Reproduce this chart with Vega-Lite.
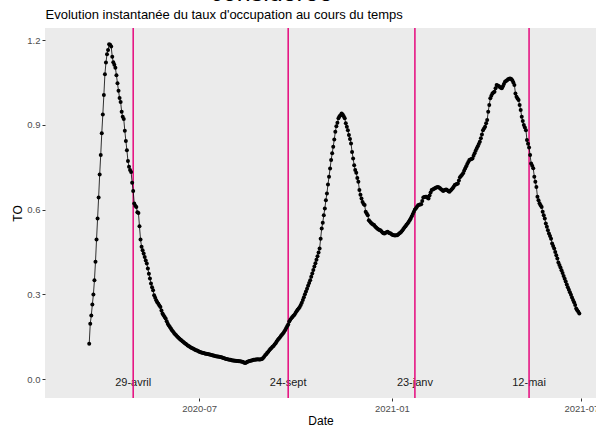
{
"$schema": "https://vega.github.io/schema/vega-lite/v6.json",
"autosize": "none",
"width": 551,
"height": 370,
"padding": {"left": 45, "top": 28, "right": 0, "bottom": 29},
"background": "#FFFFFF",
"title": {"text": "considérée", "fontSize": 25, "font": "Liberation Sans", "fontWeight": "normal", "color": "#000000", "anchor": "middle", "frame": "group", "dx": -49, "dy": 0, "offset": 2},
"datasets": {
"ev": [
{"d":"2020-04-29","label":"29-avril"},
{"d":"2020-09-24","label":"24-sept"},
{"d":"2021-01-23","label":"23-janv"},
{"d":"2021-05-12","label":"12-mai"}
],
"ts": [
{"d":"2020-03-18","v":0.125},{"d":"2020-03-19","v":0.196},{"d":"2020-03-20","v":0.225},{"d":"2020-03-21","v":0.264},{"d":"2020-03-22","v":0.299},{"d":"2020-03-23","v":0.350},{"d":"2020-03-24","v":0.415},{"d":"2020-03-25","v":0.494},{"d":"2020-03-26","v":0.568},{"d":"2020-03-27","v":0.643},{"d":"2020-03-28","v":0.724},{"d":"2020-03-29","v":0.793},{"d":"2020-03-30","v":0.870},{"d":"2020-03-31","v":0.936},
{"d":"2020-04-01","v":1.005},{"d":"2020-04-02","v":1.079},{"d":"2020-04-03","v":1.120},{"d":"2020-04-04","v":1.150},{"d":"2020-04-05","v":1.165},{"d":"2020-04-06","v":1.185},{"d":"2020-04-07","v":1.183},{"d":"2020-04-08","v":1.177},{"d":"2020-04-09","v":1.141},{"d":"2020-04-10","v":1.121},{"d":"2020-04-11","v":1.112},{"d":"2020-04-12","v":1.102},{"d":"2020-04-13","v":1.075},{"d":"2020-04-14","v":1.047},{"d":"2020-04-15","v":1.020},{"d":"2020-04-16","v":0.995},{"d":"2020-04-17","v":0.981},{"d":"2020-04-18","v":0.946},{"d":"2020-04-19","v":0.928},{"d":"2020-04-20","v":0.920},{"d":"2020-04-21","v":0.879},{"d":"2020-04-22","v":0.843},{"d":"2020-04-23","v":0.810},{"d":"2020-04-24","v":0.772},{"d":"2020-04-25","v":0.751},{"d":"2020-04-26","v":0.740},{"d":"2020-04-27","v":0.733},{"d":"2020-04-28","v":0.695},{"d":"2020-04-29","v":0.666},{"d":"2020-04-30","v":0.621},
{"d":"2020-05-01","v":0.613},{"d":"2020-05-02","v":0.609},{"d":"2020-05-03","v":0.590},{"d":"2020-05-04","v":0.588},{"d":"2020-05-05","v":0.541},{"d":"2020-05-06","v":0.494},{"d":"2020-05-07","v":0.468},{"d":"2020-05-08","v":0.456},{"d":"2020-05-09","v":0.444},{"d":"2020-05-10","v":0.432},{"d":"2020-05-11","v":0.420},{"d":"2020-05-12","v":0.409},{"d":"2020-05-13","v":0.391},{"d":"2020-05-14","v":0.373},{"d":"2020-05-15","v":0.356},{"d":"2020-05-16","v":0.338},{"d":"2020-05-17","v":0.325},{"d":"2020-05-18","v":0.314},{"d":"2020-05-19","v":0.297},{"d":"2020-05-20","v":0.288},{"d":"2020-05-21","v":0.279},{"d":"2020-05-22","v":0.272},{"d":"2020-05-23","v":0.267},{"d":"2020-05-24","v":0.260},{"d":"2020-05-25","v":0.255},{"d":"2020-05-26","v":0.243},{"d":"2020-05-27","v":0.232},{"d":"2020-05-28","v":0.226},{"d":"2020-05-29","v":0.220},{"d":"2020-05-30","v":0.214},{"d":"2020-05-31","v":0.205},
{"d":"2020-06-01","v":0.196},{"d":"2020-06-02","v":0.190},{"d":"2020-06-03","v":0.184},{"d":"2020-06-04","v":0.179},{"d":"2020-06-05","v":0.173},{"d":"2020-06-06","v":0.168},{"d":"2020-06-07","v":0.163},{"d":"2020-06-08","v":0.159},{"d":"2020-06-09","v":0.155},{"d":"2020-06-10","v":0.151},{"d":"2020-06-11","v":0.147},{"d":"2020-06-12","v":0.144},{"d":"2020-06-13","v":0.140},{"d":"2020-06-14","v":0.137},{"d":"2020-06-15","v":0.134},{"d":"2020-06-16","v":0.131},{"d":"2020-06-17","v":0.128},{"d":"2020-06-18","v":0.125},{"d":"2020-06-19","v":0.122},{"d":"2020-06-20","v":0.119},{"d":"2020-06-21","v":0.117},{"d":"2020-06-22","v":0.114},{"d":"2020-06-23","v":0.112},{"d":"2020-06-24","v":0.110},{"d":"2020-06-25","v":0.108},{"d":"2020-06-26","v":0.106},{"d":"2020-06-27","v":0.104},{"d":"2020-06-28","v":0.102},{"d":"2020-06-29","v":0.101},{"d":"2020-06-30","v":0.099},
{"d":"2020-07-01","v":0.097},{"d":"2020-07-02","v":0.096},{"d":"2020-07-03","v":0.094},{"d":"2020-07-04","v":0.093},{"d":"2020-07-05","v":0.092},{"d":"2020-07-06","v":0.091},{"d":"2020-07-07","v":0.090},{"d":"2020-07-08","v":0.090},{"d":"2020-07-09","v":0.089},{"d":"2020-07-10","v":0.088},{"d":"2020-07-11","v":0.087},{"d":"2020-07-12","v":0.086},{"d":"2020-07-13","v":0.085},{"d":"2020-07-14","v":0.083},{"d":"2020-07-15","v":0.083},{"d":"2020-07-16","v":0.082},{"d":"2020-07-17","v":0.081},{"d":"2020-07-18","v":0.080},{"d":"2020-07-19","v":0.080},{"d":"2020-07-20","v":0.079},{"d":"2020-07-21","v":0.078},{"d":"2020-07-22","v":0.077},{"d":"2020-07-23","v":0.076},{"d":"2020-07-24","v":0.075},{"d":"2020-07-25","v":0.074},{"d":"2020-07-26","v":0.072},{"d":"2020-07-27","v":0.071},{"d":"2020-07-28","v":0.070},{"d":"2020-07-29","v":0.069},{"d":"2020-07-30","v":0.068},{"d":"2020-07-31","v":0.068},
{"d":"2020-08-01","v":0.067},{"d":"2020-08-02","v":0.066},{"d":"2020-08-03","v":0.066},{"d":"2020-08-04","v":0.065},{"d":"2020-08-05","v":0.065},{"d":"2020-08-06","v":0.064},{"d":"2020-08-07","v":0.064},{"d":"2020-08-08","v":0.063},{"d":"2020-08-09","v":0.063},{"d":"2020-08-10","v":0.062},{"d":"2020-08-11","v":0.061},{"d":"2020-08-12","v":0.060},{"d":"2020-08-13","v":0.058},{"d":"2020-08-14","v":0.057},{"d":"2020-08-15","v":0.059},{"d":"2020-08-16","v":0.061},{"d":"2020-08-17","v":0.062},{"d":"2020-08-18","v":0.064},{"d":"2020-08-19","v":0.065},{"d":"2020-08-20","v":0.066},{"d":"2020-08-21","v":0.067},{"d":"2020-08-22","v":0.068},{"d":"2020-08-23","v":0.068},{"d":"2020-08-24","v":0.069},{"d":"2020-08-25","v":0.069},{"d":"2020-08-26","v":0.070},{"d":"2020-08-27","v":0.069},{"d":"2020-08-28","v":0.069},{"d":"2020-08-29","v":0.070},{"d":"2020-08-30","v":0.071},{"d":"2020-08-31","v":0.075},
{"d":"2020-09-01","v":0.079},{"d":"2020-09-02","v":0.084},{"d":"2020-09-03","v":0.088},{"d":"2020-09-04","v":0.093},{"d":"2020-09-05","v":0.097},{"d":"2020-09-06","v":0.102},{"d":"2020-09-07","v":0.106},{"d":"2020-09-08","v":0.110},{"d":"2020-09-09","v":0.114},{"d":"2020-09-10","v":0.117},{"d":"2020-09-11","v":0.122},{"d":"2020-09-12","v":0.127},{"d":"2020-09-13","v":0.133},{"d":"2020-09-14","v":0.138},{"d":"2020-09-15","v":0.143},{"d":"2020-09-16","v":0.147},{"d":"2020-09-17","v":0.152},{"d":"2020-09-18","v":0.157},{"d":"2020-09-19","v":0.161},{"d":"2020-09-20","v":0.167},{"d":"2020-09-21","v":0.173},{"d":"2020-09-22","v":0.180},{"d":"2020-09-23","v":0.187},{"d":"2020-09-24","v":0.193},{"d":"2020-09-25","v":0.204},{"d":"2020-09-26","v":0.210},{"d":"2020-09-27","v":0.215},{"d":"2020-09-28","v":0.220},{"d":"2020-09-29","v":0.224},{"d":"2020-09-30","v":0.228},
{"d":"2020-10-01","v":0.234},{"d":"2020-10-02","v":0.240},{"d":"2020-10-03","v":0.245},{"d":"2020-10-04","v":0.250},{"d":"2020-10-05","v":0.255},{"d":"2020-10-06","v":0.262},{"d":"2020-10-07","v":0.270},{"d":"2020-10-08","v":0.280},{"d":"2020-10-09","v":0.290},{"d":"2020-10-10","v":0.300},{"d":"2020-10-11","v":0.310},{"d":"2020-10-12","v":0.320},{"d":"2020-10-13","v":0.330},{"d":"2020-10-14","v":0.340},{"d":"2020-10-15","v":0.350},{"d":"2020-10-16","v":0.362},{"d":"2020-10-17","v":0.374},{"d":"2020-10-18","v":0.386},{"d":"2020-10-19","v":0.398},{"d":"2020-10-20","v":0.410},{"d":"2020-10-21","v":0.422},{"d":"2020-10-22","v":0.435},{"d":"2020-10-23","v":0.448},{"d":"2020-10-24","v":0.462},{"d":"2020-10-25","v":0.497},{"d":"2020-10-26","v":0.533},{"d":"2020-10-27","v":0.553},{"d":"2020-10-28","v":0.580},{"d":"2020-10-29","v":0.604},{"d":"2020-10-30","v":0.633},{"d":"2020-10-31","v":0.657},
{"d":"2020-11-01","v":0.689},{"d":"2020-11-02","v":0.716},{"d":"2020-11-03","v":0.745},{"d":"2020-11-04","v":0.775},{"d":"2020-11-05","v":0.799},{"d":"2020-11-06","v":0.822},{"d":"2020-11-07","v":0.848},{"d":"2020-11-08","v":0.875},{"d":"2020-11-09","v":0.895},{"d":"2020-11-10","v":0.907},{"d":"2020-11-11","v":0.923},{"d":"2020-11-12","v":0.930},{"d":"2020-11-13","v":0.934},{"d":"2020-11-14","v":0.940},{"d":"2020-11-15","v":0.936},{"d":"2020-11-16","v":0.930},{"d":"2020-11-17","v":0.923},{"d":"2020-11-18","v":0.905},{"d":"2020-11-19","v":0.893},{"d":"2020-11-20","v":0.881},{"d":"2020-11-21","v":0.864},{"d":"2020-11-22","v":0.850},{"d":"2020-11-23","v":0.834},{"d":"2020-11-24","v":0.804},{"d":"2020-11-25","v":0.781},{"d":"2020-11-26","v":0.757},{"d":"2020-11-27","v":0.740},{"d":"2020-11-28","v":0.730},{"d":"2020-11-29","v":0.712},{"d":"2020-11-30","v":0.698},
{"d":"2020-12-01","v":0.669},{"d":"2020-12-02","v":0.652},{"d":"2020-12-03","v":0.639},{"d":"2020-12-04","v":0.627},{"d":"2020-12-05","v":0.620},{"d":"2020-12-06","v":0.616},{"d":"2020-12-07","v":0.592},{"d":"2020-12-08","v":0.586},{"d":"2020-12-09","v":0.580},{"d":"2020-12-10","v":0.562},{"d":"2020-12-11","v":0.558},{"d":"2020-12-12","v":0.553},{"d":"2020-12-13","v":0.550},{"d":"2020-12-14","v":0.547},{"d":"2020-12-15","v":0.545},{"d":"2020-12-16","v":0.540},{"d":"2020-12-17","v":0.536},{"d":"2020-12-18","v":0.533},{"d":"2020-12-19","v":0.530},{"d":"2020-12-20","v":0.528},{"d":"2020-12-21","v":0.527},{"d":"2020-12-22","v":0.523},{"d":"2020-12-23","v":0.519},{"d":"2020-12-24","v":0.516},{"d":"2020-12-25","v":0.515},{"d":"2020-12-26","v":0.518},{"d":"2020-12-27","v":0.520},{"d":"2020-12-28","v":0.521},{"d":"2020-12-29","v":0.518},{"d":"2020-12-30","v":0.516},{"d":"2020-12-31","v":0.515},
{"d":"2021-01-01","v":0.512},{"d":"2021-01-02","v":0.510},{"d":"2021-01-03","v":0.509},{"d":"2021-01-04","v":0.508},{"d":"2021-01-05","v":0.509},{"d":"2021-01-06","v":0.509},{"d":"2021-01-07","v":0.512},{"d":"2021-01-08","v":0.515},{"d":"2021-01-09","v":0.518},{"d":"2021-01-10","v":0.521},{"d":"2021-01-11","v":0.526},{"d":"2021-01-12","v":0.531},{"d":"2021-01-13","v":0.536},{"d":"2021-01-14","v":0.541},{"d":"2021-01-15","v":0.546},{"d":"2021-01-16","v":0.551},{"d":"2021-01-17","v":0.556},{"d":"2021-01-18","v":0.562},{"d":"2021-01-19","v":0.568},{"d":"2021-01-20","v":0.576},{"d":"2021-01-21","v":0.584},{"d":"2021-01-22","v":0.592},{"d":"2021-01-23","v":0.600},{"d":"2021-01-24","v":0.605},{"d":"2021-01-25","v":0.610},{"d":"2021-01-26","v":0.615},{"d":"2021-01-27","v":0.617},{"d":"2021-01-28","v":0.618},{"d":"2021-01-29","v":0.619},{"d":"2021-01-30","v":0.630},{"d":"2021-01-31","v":0.643},
{"d":"2021-02-01","v":0.644},{"d":"2021-02-02","v":0.645},{"d":"2021-02-03","v":0.645},{"d":"2021-02-04","v":0.642},{"d":"2021-02-05","v":0.639},{"d":"2021-02-06","v":0.650},{"d":"2021-02-07","v":0.660},{"d":"2021-02-08","v":0.669},{"d":"2021-02-09","v":0.671},{"d":"2021-02-10","v":0.673},{"d":"2021-02-11","v":0.675},{"d":"2021-02-12","v":0.677},{"d":"2021-02-13","v":0.679},{"d":"2021-02-14","v":0.680},{"d":"2021-02-15","v":0.678},{"d":"2021-02-16","v":0.675},{"d":"2021-02-17","v":0.672},{"d":"2021-02-18","v":0.669},{"d":"2021-02-19","v":0.666},{"d":"2021-02-20","v":0.668},{"d":"2021-02-21","v":0.670},{"d":"2021-02-22","v":0.671},{"d":"2021-02-23","v":0.668},{"d":"2021-02-24","v":0.665},{"d":"2021-02-25","v":0.663},{"d":"2021-02-26","v":0.667},{"d":"2021-02-27","v":0.671},{"d":"2021-02-28","v":0.675},
{"d":"2021-03-01","v":0.681},{"d":"2021-03-02","v":0.687},{"d":"2021-03-03","v":0.689},{"d":"2021-03-04","v":0.690},{"d":"2021-03-05","v":0.692},{"d":"2021-03-06","v":0.703},{"d":"2021-03-07","v":0.714},{"d":"2021-03-08","v":0.719},{"d":"2021-03-09","v":0.723},{"d":"2021-03-10","v":0.728},{"d":"2021-03-11","v":0.737},{"d":"2021-03-12","v":0.745},{"d":"2021-03-13","v":0.753},{"d":"2021-03-14","v":0.761},{"d":"2021-03-15","v":0.768},{"d":"2021-03-16","v":0.775},{"d":"2021-03-17","v":0.777},{"d":"2021-03-18","v":0.779},{"d":"2021-03-19","v":0.781},{"d":"2021-03-20","v":0.790},{"d":"2021-03-21","v":0.799},{"d":"2021-03-22","v":0.808},{"d":"2021-03-23","v":0.816},{"d":"2021-03-24","v":0.824},{"d":"2021-03-25","v":0.832},{"d":"2021-03-26","v":0.840},{"d":"2021-03-27","v":0.852},{"d":"2021-03-28","v":0.866},{"d":"2021-03-29","v":0.881},{"d":"2021-03-30","v":0.887},{"d":"2021-03-31","v":0.893},
{"d":"2021-04-01","v":0.905},{"d":"2021-04-02","v":0.917},{"d":"2021-04-03","v":0.946},{"d":"2021-04-04","v":0.970},{"d":"2021-04-05","v":0.994},{"d":"2021-04-06","v":1.003},{"d":"2021-04-07","v":1.011},{"d":"2021-04-08","v":1.014},{"d":"2021-04-09","v":1.017},{"d":"2021-04-10","v":1.029},{"d":"2021-04-11","v":1.041},{"d":"2021-04-12","v":1.039},{"d":"2021-04-13","v":1.037},{"d":"2021-04-14","v":1.034},{"d":"2021-04-15","v":1.031},{"d":"2021-04-16","v":1.029},{"d":"2021-04-17","v":1.036},{"d":"2021-04-18","v":1.044},{"d":"2021-04-19","v":1.052},{"d":"2021-04-20","v":1.055},{"d":"2021-04-21","v":1.058},{"d":"2021-04-22","v":1.061},{"d":"2021-04-23","v":1.063},{"d":"2021-04-24","v":1.064},{"d":"2021-04-25","v":1.062},{"d":"2021-04-26","v":1.058},{"d":"2021-04-27","v":1.050},{"d":"2021-04-28","v":1.041},{"d":"2021-04-29","v":1.011},{"d":"2021-04-30","v":0.999},
{"d":"2021-05-01","v":0.993},{"d":"2021-05-02","v":0.988},{"d":"2021-05-03","v":0.970},{"d":"2021-05-04","v":0.952},{"d":"2021-05-05","v":0.928},{"d":"2021-05-06","v":0.913},{"d":"2021-05-07","v":0.899},{"d":"2021-05-08","v":0.890},{"d":"2021-05-09","v":0.881},{"d":"2021-05-10","v":0.846},{"d":"2021-05-11","v":0.833},{"d":"2021-05-12","v":0.820},{"d":"2021-05-13","v":0.793},{"d":"2021-05-14","v":0.763},{"d":"2021-05-15","v":0.755},{"d":"2021-05-16","v":0.746},{"d":"2021-05-17","v":0.716},{"d":"2021-05-18","v":0.698},{"d":"2021-05-19","v":0.680},{"d":"2021-05-20","v":0.645},{"d":"2021-05-21","v":0.633},{"d":"2021-05-22","v":0.622},{"d":"2021-05-23","v":0.615},{"d":"2021-05-24","v":0.609},{"d":"2021-05-25","v":0.592},{"d":"2021-05-26","v":0.580},{"d":"2021-05-27","v":0.568},{"d":"2021-05-28","v":0.551},{"d":"2021-05-29","v":0.539},{"d":"2021-05-30","v":0.527},{"d":"2021-05-31","v":0.515},
{"d":"2021-06-01","v":0.506},{"d":"2021-06-02","v":0.497},{"d":"2021-06-03","v":0.480},{"d":"2021-06-04","v":0.471},{"d":"2021-06-05","v":0.462},{"d":"2021-06-06","v":0.450},{"d":"2021-06-07","v":0.438},{"d":"2021-06-08","v":0.427},{"d":"2021-06-09","v":0.413},{"d":"2021-06-10","v":0.404},{"d":"2021-06-11","v":0.395},{"d":"2021-06-12","v":0.385},{"d":"2021-06-13","v":0.375},{"d":"2021-06-14","v":0.365},{"d":"2021-06-15","v":0.355},{"d":"2021-06-16","v":0.345},{"d":"2021-06-17","v":0.335},{"d":"2021-06-18","v":0.325},{"d":"2021-06-19","v":0.316},{"d":"2021-06-20","v":0.307},{"d":"2021-06-21","v":0.298},{"d":"2021-06-22","v":0.289},{"d":"2021-06-23","v":0.280},{"d":"2021-06-24","v":0.272},{"d":"2021-06-25","v":0.262},{"d":"2021-06-26","v":0.250},{"d":"2021-06-27","v":0.244},{"d":"2021-06-28","v":0.238},{"d":"2021-06-29","v":0.232}
]
},
"data": {"name": "ts"},
"resolve": {"axis": {"x": "independent"}},
"layer": [
{
"data": {"name": "ev"},
"mark": {"type": "text", "fontSize": 11, "font": "Liberation Sans", "color": "#1A1A1A", "baseline": "middle", "align": "center"},
"encoding": {
"x": {"field": "d", "type": "temporal", "axis": {"orient": "top", "labels": false, "ticks": false, "grid": false, "domain": false, "title": "Evolution instantanée du taux d'occupation au cours du temps", "titleAnchor": "start", "titleFontSize": 13, "titleColor": "#000000", "titlePadding": 7}},
"y": {"datum": -0.014, "type": "quantitative", "title": "TO"},
"text": {"field": "label"}
}
},
{
"data": {"name": "ev"},
"mark": {"type": "rule", "color": "#E6087D", "strokeWidth": 1.5},
"encoding": {
"x": {"field": "d", "type": "temporal", "axis": null}
}
},
{
"mark": {"type": "line", "color": "#000000", "strokeWidth": 0.8},
"encoding": {
"x": {"field": "d", "type": "temporal",
"scale": {"type": "utc", "domain": [{"year": 2020, "month": 2, "date": 4, "hours": 19, "utc": true}, {"year": 2021, "month": 7, "date": 14, "hours": 22, "utc": true}]},
"axis": {"orient": "bottom", "title": "Date", "titlePadding": 3,
"values": [{"year": 2020, "month": 4, "date": 1, "utc": true}, {"year": 2020, "month": 7, "date": 1, "utc": true}, {"year": 2020, "month": 10, "date": 1, "utc": true}, {"year": 2021, "month": 1, "date": 1, "utc": true}, {"year": 2021, "month": 4, "date": 1, "utc": true}, {"year": 2021, "month": 7, "date": 1, "utc": true}],
"labelExpr": "utcmonth(datum.value) % 6 == 0 ? utcFormat(datum.value, '%Y-%m') : ''",
"gridWidth": {"condition": {"test": "utcmonth(datum.value) % 6 == 0", "value": 1.1}, "value": 0.5},
"tickOpacity": {"condition": {"test": "utcmonth(datum.value) % 6 == 0", "value": 1}, "value": 0}}},
"y": {"field": "v", "type": "quantitative", "title": "TO",
"scale": {"domain": [-0.067, 1.2425], "nice": false, "zero": false},
"axis": {"values": [0, 0.15, 0.3, 0.45, 0.6, 0.75, 0.9, 1.05, 1.2],
"labelExpr": "abs(datum.value/0.3 - round(datum.value/0.3)) < 0.01 ? format(datum.value, '.1f') : ''",
"gridWidth": {"condition": {"test": "abs(datum.value/0.3 - round(datum.value/0.3)) < 0.01", "value": 1.1}, "value": 0.5},
"tickOpacity": {"condition": {"test": "abs(datum.value/0.3 - round(datum.value/0.3)) < 0.01", "value": 1}, "value": 0},
"titlePadding": 2}}
}
},
{
"mark": {"type": "point", "filled": true, "color": "#000000", "size": 16, "opacity": 1},
"encoding": {
"x": {"field": "d", "type": "temporal", "axis": null},
"y": {"field": "v", "type": "quantitative", "title": "TO"}
}
}
],
"config": {
"view": {"fill": "#EBEBEB", "stroke": null},
"axis": {"gridColor": "#FFFFFF", "domain": false, "tickColor": "#333333", "tickSize": 3, "labelColor": "#4D4D4D", "labelFontSize": 9.5, "labelFont": "Liberation Sans", "titleFont": "Liberation Sans", "titleFontWeight": "normal", "titleFontSize": 12, "titleColor": "#000000", "labelPadding": 2}
}
}
